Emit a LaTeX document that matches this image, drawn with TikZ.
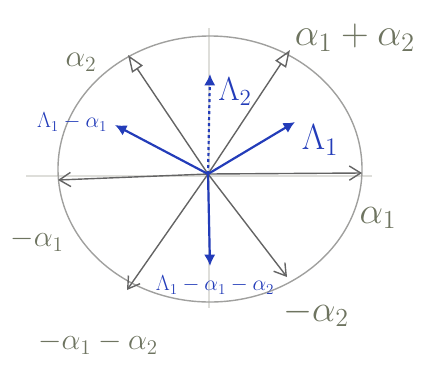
\documentclass[tikz,border=0pt]{standalone}
\usepackage{amsmath}
\usetikzlibrary{arrows.meta}
\definecolor{pencil}{RGB}{100,100,100}
\definecolor{rim}{RGB}{160,160,158}
\definecolor{faint}{RGB}{222,222,218}
\definecolor{ink}{RGB}{35,60,185}
\definecolor{labelgray}{RGB}{110,116,96}
\begin{document}
\begin{tikzpicture}[
  x=1pt,y=-1pt,
  root/.style={draw=pencil,line width=1.4pt,-{Straight Barb[length=4mm,width=5mm]}},
  simple/.style={draw=pencil,line width=1.4pt,-{Triangle[open,length=6mm,width=4.5mm]}},
  weight/.style={draw=ink,line width=2.2pt,-{Latex[length=4mm,width=4mm]}},
  rlab/.style={text=labelgray,inner sep=0pt,font=\huge},
  wlab/.style={text=ink,inner sep=0pt,font=\huge}
]
  \useasboundingbox (0,0) rectangle (423,368);

  % construction lines and the circle
  \coordinate (o) at (208,174);
  \coordinate (axl) at (26,176);
  \coordinate (axr) at (372,176);
  \coordinate (axt) at (209,28);
  \coordinate (axb) at (209,308);
  \draw[faint,line width=1.2pt] (axl) -- (axr);
  \draw[faint,line width=1.2pt] (axt) -- (axb);
  \draw[rim,line width=1.4pt] (210,169) ellipse [x radius=152,y radius=133];

  % roots
  \coordinate (a1) at (362,173);
  \coordinate (ma1) at (58,180);
  \coordinate (a2) at (128,55);
  \coordinate (a12) at (290,50);
  \coordinate (ma2) at (287,277);
  \coordinate (ma12) at (127,290);
  \draw[root] (o) -- (a1);
  \draw[root] (o) -- (ma1);
  \draw[simple] (o) -- (a2);
  \draw[simple] (o) -- (a12);
  \draw[root] (o) -- (ma2);
  \draw[root] (o) -- (ma12);

  % weights
  \coordinate (w1) at (295,122);
  \coordinate (w2) at (210,74);
  \coordinate (w1a) at (115,125);
  \coordinate (w1aa) at (210,266);
  \draw[weight] (o) -- (w1);
  \draw[weight,dashed] (o) -- (w2);
  \draw[weight] (o) -- (w1a);
  \draw[weight] (o) -- (w1aa);

  % labels
  \node[rlab,scale=1.8] (la1) at (378,218) {$\alpha_1$};
  \node[rlab,scale=1.45] (lma1) at (37,240) {$-\alpha_1$};
  \node[rlab,scale=1.5] (la2) at (81,62) {$\alpha_2$};
  \node[rlab,scale=1.85] (la12) at (355,38) {$\alpha_1+\alpha_2$};
  \node[rlab,scale=1.8] (lma2) at (316,313) {$-\alpha_2$};
  \node[rlab,scale=1.45] (lma12) at (98,343) {$-\alpha_1-\alpha_2$};
  \node[wlab,scale=1.75] (lw1) at (320,140) {$\Lambda_1$};
  \node[wlab,scale=1.6] (lw2) at (235,92) {$\Lambda_2$};
  \node[wlab,scale=1.05] (lw1a) at (72,122) {$\Lambda_1-\alpha_1$};
  \node[wlab,scale=1.05] (lw1aa) at (215,285) {$\Lambda_1-\alpha_1-\alpha_2$};
\end{tikzpicture}
\end{document}
